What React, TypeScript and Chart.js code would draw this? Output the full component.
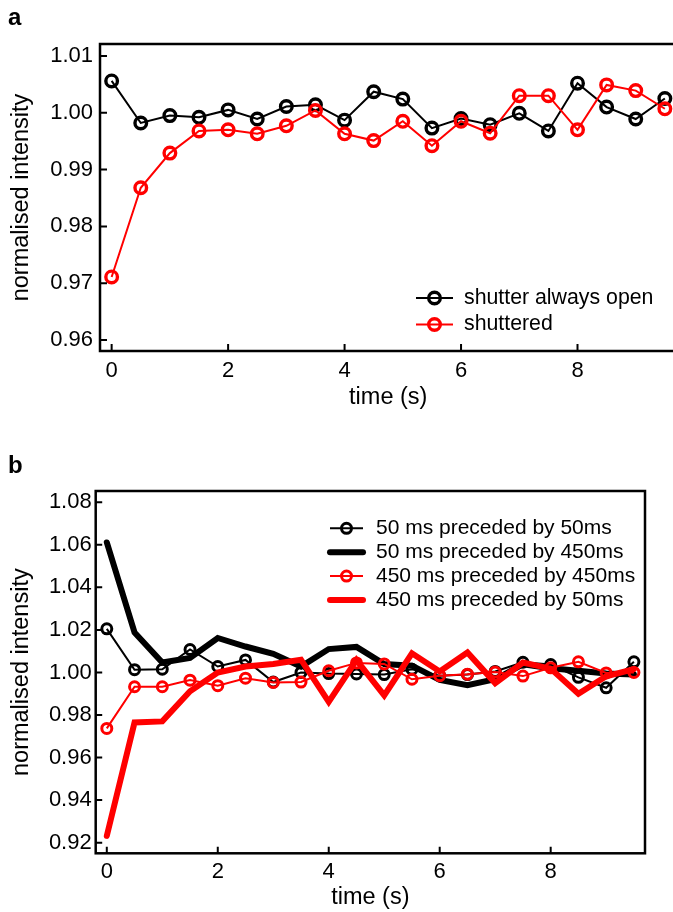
import React, { useEffect, useRef } from "react";
import { Chart, registerables } from "chart.js";

Chart.register(...registerables);

const FONT = "'Liberation Sans', Arial, Helvetica, sans-serif";

// ---------- Panel a data ----------
const timeA = [0, 0.5, 1, 1.5, 2, 2.5, 3, 3.5, 4, 4.5, 5, 5.5, 6, 6.5, 7, 7.5, 8, 8.5, 9, 9.5];
const shutterOpen = [1.0056, 0.9982, 0.9995, 0.9992, 1.0005, 0.9989, 1.0011, 1.0014, 0.9987, 1.0037, 1.0024, 0.9973, 0.999, 0.9979, 0.9999, 0.9968, 1.0052, 1.001, 0.9989, 1.0025];
const shuttered = [0.9711, 0.9868, 0.9929, 0.9968, 0.997, 0.9963, 0.9977, 1.0004, 0.9963, 0.9951, 0.9985, 0.9942, 0.9985, 0.9964, 1.003, 1.003, 0.997, 1.0049, 1.0039, 1.0007];
const yTicksA = [0.96, 0.97, 0.98, 0.99, 1.0, 1.01];
const labelsA = ["shutter always open", "shuttered"];

// ---------- Panel b data ----------
const timeB = [0, 0.5, 1, 1.5, 2, 2.5, 3, 3.5, 4, 4.5, 5, 5.5, 6, 6.5, 7, 7.5, 8, 8.5, 9, 9.5];
const ms50after50 = [1.0205, 1.0013, 1.0015, 1.0108, 1.0028, 1.0059, 0.9955, 1.0, 0.9995, 0.9993, 0.999, 1.0015, 0.9985, 0.999, 1.0005, 1.0048, 1.0037, 0.9977, 0.9928, 1.005];
const ms50after450 = [1.0611, 1.0188, 1.0047, 1.0068, 1.0162, 1.0122, 1.0088, 1.0028, 1.011, 1.012, 1.004, 1.0032, 0.9965, 0.994, 0.9968, 1.0038, 1.002, 1.0008, 0.9995, 0.999];
const ms450after450 = [0.9737, 0.9933, 0.9933, 0.9964, 0.9938, 0.9973, 0.9953, 0.9955, 1.0008, 1.0045, 1.004, 0.9968, 0.9985, 0.9992, 1.0002, 0.9983, 1.0022, 1.005, 0.9998, 1.0];
const ms450after50 = [0.9232, 0.9765, 0.977, 0.9912, 1.0, 1.0028, 1.004, 1.006, 0.9862, 1.0058, 0.9892, 1.009, 1.0005, 1.0094, 0.995, 1.0047, 1.0018, 0.99, 0.9982, 1.0016];
const yTicksB = [0.92, 0.94, 0.96, 0.98, 1.0, 1.02, 1.04, 1.06, 1.08];
const labelsB = ["50 ms preceded by 50ms", "50 ms preceded by 450ms", "450 ms preceded by 450ms", "450 ms preceded by 50ms"];

const xTicks = [0, 2, 4, 6, 8];
const xLabel = "time (s)";
const yLabel = "normalised intensity";

const pts = (xs: number[], ys: number[]) => xs.map((x, i) => ({ x, y: ys[i] }));

const framePlugin = {
  id: "frame",
  afterDraw(chart: any, _args: any, o: any) {
    const { ctx, chartArea } = chart;
    const { left, top, right, bottom } = chartArea;
    ctx.save();
    ctx.strokeStyle = "#000";
    ctx.lineWidth = o.width;
    ctx.lineCap = "butt";
    ctx.strokeRect(left, top, right - left, bottom - top);
    const xs = chart.scales.x;
    const ys = chart.scales.y;
    ctx.lineWidth = o.tickWidth;
    ctx.beginPath();
    xs.ticks.forEach((t: any) => {
      const px = xs.getPixelForValue(t.value);
      ctx.moveTo(px, bottom);
      ctx.lineTo(px, bottom - o.len);
    });
    ys.ticks.forEach((t: any) => {
      const py = ys.getPixelForValue(t.value);
      ctx.moveTo(left, py);
      ctx.lineTo(left + o.len, py);
    });
    ctx.stroke();
    ctx.restore();
  },
};

const legendPlugin = {
  id: "seriesLegend",
  afterDraw(chart: any, _args: any, o: any) {
    const ctx = chart.ctx;
    ctx.save();
    ctx.font = `${o.fontSize}px ${FONT}`;
    ctx.textBaseline = "middle";
    ctx.textAlign = "left";
    o.order.forEach((di: number, row: number) => {
      const ds = chart.data.datasets[di];
      const y = o.y + row * o.dy;
      ctx.strokeStyle = ds.borderColor;
      ctx.lineWidth = ds.borderWidth;
      ctx.lineCap = ds.borderCapStyle || "butt";
      ctx.beginPath();
      ctx.moveTo(o.x, y);
      ctx.lineTo(o.x + o.len, y);
      ctx.stroke();
      if (ds.pointRadius > 0) {
        ctx.lineWidth = ds.pointBorderWidth;
        ctx.beginPath();
        ctx.arc(o.x + o.len / 2, y, ds.pointRadius, 0, Math.PI * 2);
        ctx.stroke();
      }
      ctx.fillStyle = "#000";
      ctx.fillText(ds.label, o.textX, y);
    });
    ctx.restore();
  },
};

function axisOptions(cfg: {
  min: number; max: number; ticks: number[]; size: number; tickPad: number;
  title: string; titlePad: any; fontSize: number; titleSize: number; decimals: number; horizontal: boolean;
}) {
  return {
    type: "linear",
    min: cfg.min,
    max: cfg.max,
    afterBuildTicks: (s: any) => {
      s.ticks = cfg.ticks.map((v) => ({ value: v }));
    },
    afterFit: (s: any) => {
      if (cfg.horizontal) s.height = cfg.size;
      else s.width = cfg.size;
    },
    grid: { display: false, drawTicks: false },
    border: { display: false },
    ticks: {
      autoSkip: false,
      maxRotation: 0,
      color: "#000",
      padding: cfg.tickPad,
      font: { family: FONT, size: cfg.fontSize },
      callback: (v: any) => (cfg.decimals ? Number(v).toFixed(cfg.decimals) : String(v)),
    },
    title: {
      display: true,
      text: cfg.title,
      color: "#000",
      font: { family: FONT, size: cfg.titleSize },
      padding: cfg.titlePad,
    },
  };
}

function PanelA() {
  const ref = useRef<HTMLCanvasElement>(null);
  useEffect(() => {
    const chart = new Chart(ref.current!, {
      type: "line",
      data: {
        datasets: [
          {
            label: labelsA[0],
            data: pts(timeA, shutterOpen),
            borderColor: "#000000",
            borderWidth: 2,
            pointRadius: 5.8,
            pointBorderWidth: 3.4,
            pointBackgroundColor: "rgba(0,0,0,0)",
            pointBorderColor: "#000000",
            order: 2,
          },
          {
            label: labelsA[1],
            data: pts(timeA, shuttered),
            borderColor: "#ff0000",
            borderWidth: 2,
            pointRadius: 5.8,
            pointBorderWidth: 3.4,
            pointBackgroundColor: "rgba(0,0,0,0)",
            pointBorderColor: "#ff0000",
            order: 1,
          },
        ],
      } as any,
      options: {
        animation: false,
        responsive: false,
        devicePixelRatio: 1,
        layout: { padding: { top: 44, left: 0, right: 23.5, bottom: 0 } },
        scales: {
          x: axisOptions({ min: -0.2, max: 9.7, ticks: xTicks, size: 69, tickPad: 6.5, title: xLabel, titlePad: { top: 0, bottom: 8 }, fontSize: 22, titleSize: 23.5, decimals: 0, horizontal: true }),
          y: axisOptions({ min: 0.95807, max: 1.0121, ticks: yTicksA, size: 100, tickPad: 7, title: yLabel, titlePad: { top: 7, bottom: 0 }, fontSize: 22, titleSize: 23.5, decimals: 2, horizontal: false }),
        } as any,
        plugins: {
          legend: { display: false },
          tooltip: { enabled: false },
          frame: { width: 2.5, tickWidth: 2, len: 7 },
          seriesLegend: { x: 416, len: 37, textX: 464, y: 298, dy: 26.5, fontSize: 21.3, order: [0, 1] },
        } as any,
      },
      plugins: [framePlugin, legendPlugin],
    });
    return () => chart.destroy();
  }, []);
  return <canvas ref={ref} width={700} height={420} style={{ position: "absolute", left: 0, top: 0, width: 700, height: 420 }} />;
}

function PanelB() {
  const ref = useRef<HTMLCanvasElement>(null);
  useEffect(() => {
    const thin = (label: string, ys: number[], color: string, order: number) => ({
      label,
      data: pts(timeB, ys),
      borderColor: color,
      borderWidth: 2,
      pointRadius: 5,
      pointBorderWidth: 3,
      pointBackgroundColor: "rgba(0,0,0,0)",
      pointBorderColor: color,
      order,
    });
    const thick = (label: string, ys: number[], color: string, order: number) => ({
      label,
      data: pts(timeB, ys),
      borderColor: color,
      borderWidth: 6,
      borderCapStyle: "round",
      borderJoinStyle: "miter",
      pointRadius: 0,
      order,
    });
    const chart = new Chart(ref.current!, {
      type: "line",
      data: {
        datasets: [
          thin(labelsB[0], ms50after50, "#000000", 4),
          thick(labelsB[1], ms50after450, "#000000", 3),
          thin(labelsB[2], ms450after450, "#ff0000", 2),
          thick(labelsB[3], ms450after50, "#ff0000", 1),
        ],
      } as any,
      options: {
        animation: false,
        responsive: false,
        devicePixelRatio: 1,
        layout: { padding: { top: 61, left: 0, right: 28, bottom: 0 } },
        scales: {
          x: axisOptions({ min: -0.2, max: 9.7, ticks: xTicks, size: 58.7, tickPad: 5.5, title: xLabel, titlePad: { top: 0, bottom: 0 }, fontSize: 22, titleSize: 23.5, decimals: 0, horizontal: true }),
          y: axisOptions({ min: 0.915, max: 1.0853, ticks: yTicksB, size: 95.7, tickPad: 4, title: yLabel, titlePad: { top: 7, bottom: 0 }, fontSize: 22, titleSize: 23.5, decimals: 2, horizontal: false }),
        } as any,
        plugins: {
          legend: { display: false },
          tooltip: { enabled: false },
          frame: { width: 2.5, tickWidth: 2, len: 6.5 },
          seriesLegend: { x: 330, len: 33, textX: 376, y: 98.3, dy: 23.9, fontSize: 21, order: [0, 1, 2, 3] },
        } as any,
      },
      plugins: [framePlugin, legendPlugin],
    });
    return () => chart.destroy();
  }, []);
  return <canvas ref={ref} width={673} height={482} style={{ position: "absolute", left: 0, top: 430, width: 673, height: 482 }} />;
}

export default function App() {
  const letter: React.CSSProperties = {
    position: "absolute",
    fontFamily: FONT,
    fontWeight: "bold",
    fontSize: 24,
    lineHeight: "24px",
    color: "#000",
  };
  return (
    <div style={{ position: "fixed", left: 0, top: 0, width: 673, height: 912, overflow: "hidden", background: "#fff" }}>
      <PanelA />
      <PanelB />
      <div style={{ ...letter, left: 8, top: 5 }}>a</div>
      <div style={{ ...letter, left: 8, top: 453 }}>b</div>
    </div>
  );
}
